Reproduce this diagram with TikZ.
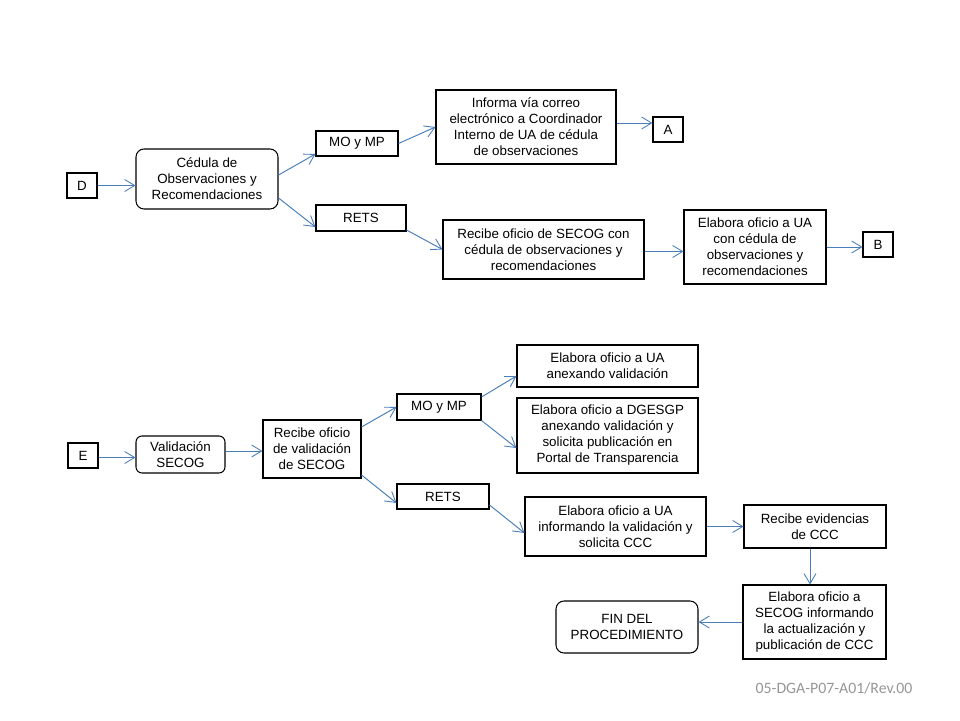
\documentclass[tikz,border=0pt]{standalone}
\usepackage{fontspec}
\setmainfont{Liberation Sans}
\newfontfamily\footfont{Carlito}
\usetikzlibrary{arrows.meta,calc}
\definecolor{conn}{RGB}{74,126,187}
\definecolor{footgray}{RGB}{150,150,150}
\begin{document}
\begin{tikzpicture}[x=0.02cm,y=-0.02cm,
  box/.style 2 args={draw=black,line width=0.6pt,align=center,inner sep=0pt,
    minimum width=#1*0.02cm,minimum height=#2*0.02cm,
    font=\fontsize{7.6}{9.1}\selectfont},
  rbox/.style 2 args={box={#1}{#2},rounded corners=1.6mm},
  conn/.style={draw=conn,line width=0.55pt,-{Straight Barb[length=2mm,width=2.4mm,line width=0.5pt]}}
]
\useasboundingbox (0,0) rectangle (960,720);
% top section
\node[box={30}{25}] (D) at (82,185.5) {D};
\node[rbox={142}{60}] (ced) at (207,179) {Cédula de\\Observaciones y\\Recomendaciones};
\node[box={82}{25}] (mo1) at (357,143.5) {MO y MP};
\node[box={90}{26}] (rets1) at (361,218) {RETS};
\node[box={180}{74}] (inf) at (526,127) {Informa vía correo\\electrónico a Coordinador\\Interno de UA de cédula\\de observaciones};
\node[box={30}{25}] (A) at (668,129.5) {A};
\node[box={201}{59}] (rec1) at (543.5,249.5) {Recibe oficio de SECOG con\\cédula de observaciones y\\recomendaciones};
\node[box={142}{74}] (ela1) at (755,247) {Elabora oficio a UA\\con cédula de\\observaciones y\\recomendaciones};
\node[box={30}{25}] (B) at (878,244.5) {B};
% bottom section
\node[box={30}{25}] (E) at (83,455.5) {E};
\node[rbox={89}{37},rounded corners=1.2mm] (val) at (180.5,454.5) {Validación\\SECOG};
\node[box={98}{58}] (rec2) at (312,449) {Recibe oficio\\de validación\\de SECOG};
\node[box={84}{26}] (mo2) at (439,407) {MO y MP};
\node[box={92}{25}] (rets2) at (443,496.5) {RETS};
\node[box={181}{42}] (anex) at (607.5,366) {Elabora oficio a UA\\anexando validación};
\node[box={181}{75}] (dges) at (607.5,435.5) {Elabora oficio a DGESGP\\anexando validación y\\solicita publicación en\\Portal de Transparencia};
\node[box={181}{59}] (infm) at (615.5,526.5) {Elabora oficio a UA\\informando la validación y\\solicita CCC};
\node[box={142}{43}] (evid) at (815,526.5) {Recibe evidencias\\de CCC};
\node[box={143}{74}] (secog) at (814.5,622) {Elabora oficio a\\SECOG informando\\la actualización y\\publicación de CCC};
\node[rbox={142}{52}] (fin) at (627,627) {FIN DEL\\PROCEDIMIENTO};
% footer
\node[font=\footfont\fontsize{9}{11}\selectfont,text=footgray,inner sep=0pt] (foot) at (834,688) {05-DGA-P07-A01/Rev.00};
% connectors top
\draw[conn] (D.east) -- (D.east -| ced.west);
\draw[conn] ($(ced.east)+(0,-4)$) -- ($(mo1.west)+(0,10.5)$);
\draw[conn] ($(ced.east)+(0,19)$) -- ($(rets1.west)+(0,9)$);
\draw[conn] (mo1.east) -- (inf.west);
\draw[conn] ($(rets1.east)+(0,12)$) -- (rec1.west);
\coordinate (ia) at ($(inf.east)+(0,-4)$);
\draw[conn] (ia) -- (ia -| A.west);
\coordinate (re) at ($(rec1.east)+(0,2)$);
\draw[conn] (re) -- (re -| ela1.west);
\draw[conn] (ela1.east) -- (ela1.east -| B.west);
% connectors bottom
\coordinate (ev) at ($(E.east)+(0,2)$);
\draw[conn] (ev) -- (ev -| val.west);
\coordinate (vr) at ($(val.east)+(0,-3.5)$);
\draw[conn] (vr) -- (vr -| rec2.west);
\draw[conn] ($(rec2.east)+(0,-22)$) -- (mo2.west);
\draw[conn] ($(rec2.east)+(0,26)$) -- ($(rets2.west)+(0,6.5)$);
\draw[conn] ($(mo2.east)+(0,-10)$) -- ($(anex.west)+(0,10)$);
\draw[conn] (mo2.south east) -- ($(dges.west)+(0,12.5)$);
\draw[conn] ($(rets2.east)+(0,8.5)$) -- ($(infm.west)+(0,6.5)$);
\draw[conn] (infm.east) -- (evid.west);
\coordinate (es) at ($(evid.south)+(-5,0)$);
\draw[conn] (es) -- (es |- secog.north);
\draw[conn] (secog.west) -- (secog.west -| fin.east);
\end{tikzpicture}
\end{document}
